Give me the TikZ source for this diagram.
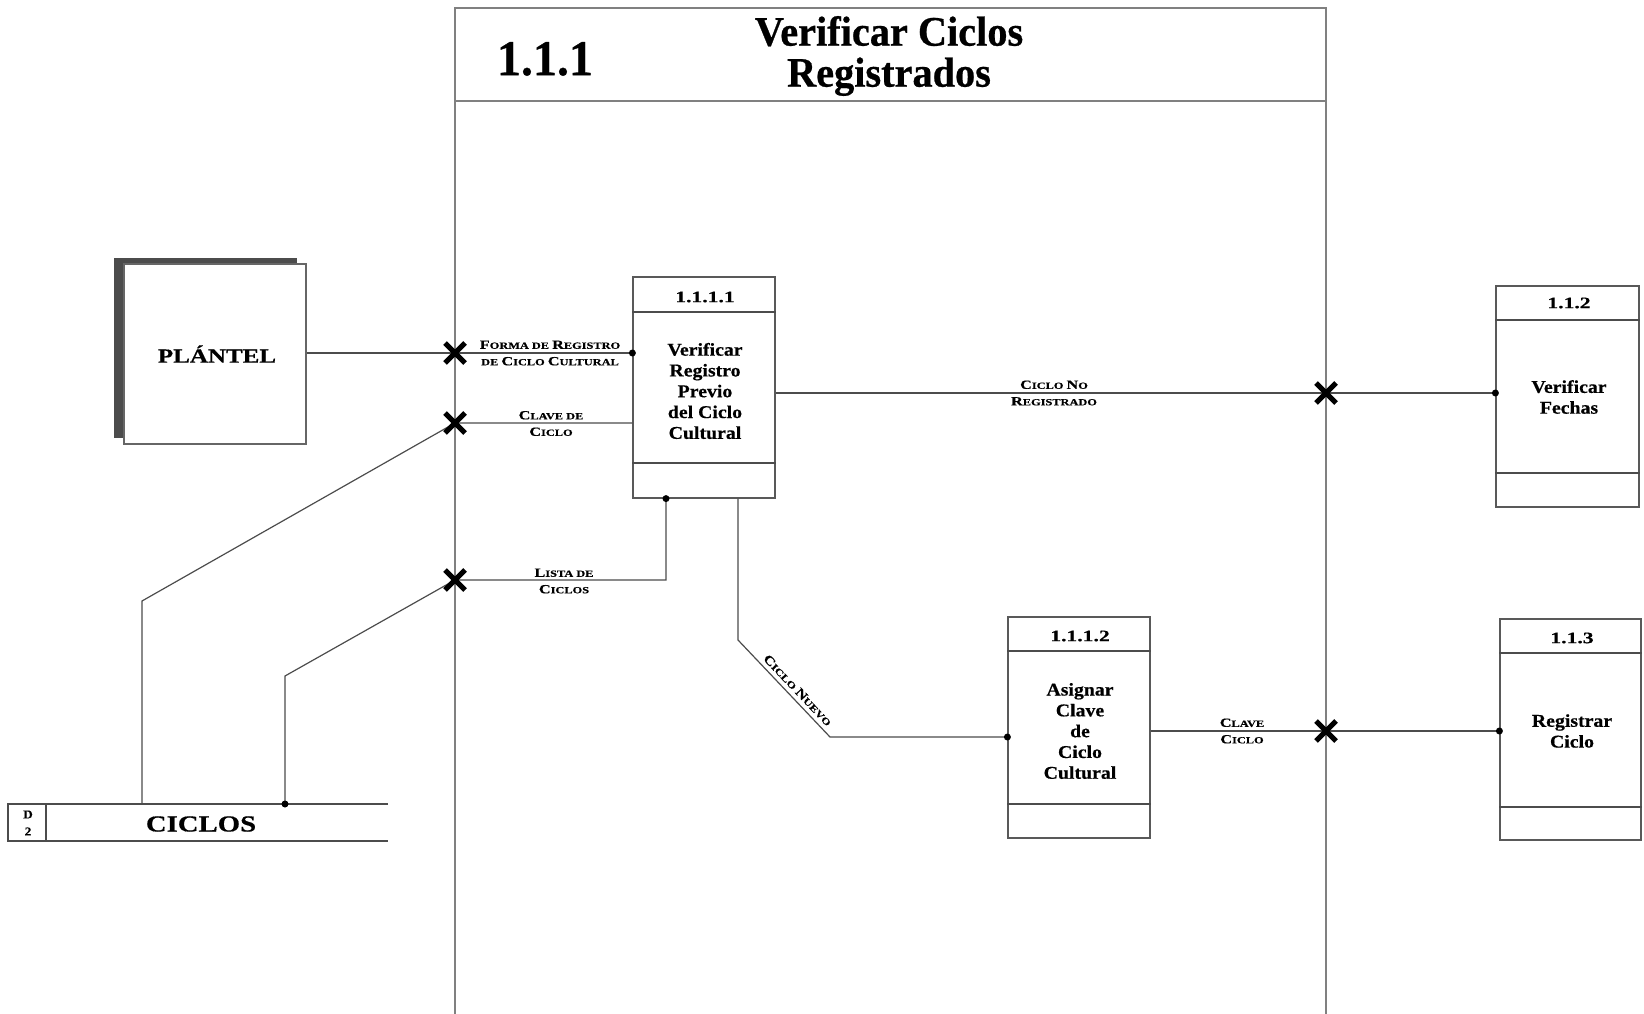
\documentclass[tikz,border=0pt]{standalone}
\usepackage{fontspec}
\setmainfont{Liberation Serif}
\newfontfamily\titfont[FakeStretch=0.96,FakeBold=0.6]{Liberation Serif}
\newfontfamily\widefont[FakeStretch=1.25,FakeBold=0.6]{Liberation Serif}
\newfontfamily\labfamily[FakeStretch=1.3,FakeBold=0.4]{Liberation Serif}
\newfontfamily\procfont[FakeStretch=1.1,FakeBold=0.5]{Liberation Serif}
\newfontfamily\numfont[FakeStretch=1.35,FakeBold=0.5]{Liberation Serif}
\usetikzlibrary{shapes.misc}
\newcommand\Bg[1]{{\fontsize{12.5}{12.5}\selectfont #1}}
\tikzset{
  ln/.style={draw=black!70, line width=1.2pt},
  frm/.style={draw=black!50, line width=1.1pt},
  pbox/.style={draw=black!65, line width=1.2pt, minimum width=142pt, minimum height=221pt, inner sep=0pt},
  ptit/.style={font=\numfont\bfseries\fontsize{16}{16}\selectfont, inner sep=0pt},
  pbody/.style={font=\procfont\bfseries\fontsize{18}{20.8}\selectfont, align=center, inner sep=0pt},
  lab/.style={font=\labfamily\bfseries\fontsize{9.5}{16.5}\selectfont, align=center, inner sep=0pt},
  xmk/.style={cross out, draw=black, line width=5pt, minimum size=15pt, inner sep=0pt},
  dot/.style={circle, fill=black, minimum size=7pt, inner sep=0pt},
}
\begin{document}
\begin{tikzpicture}[x=1pt,y=-1pt]
\useasboundingbox (0,0) rectangle (1644,1014);
% frame
\draw[frm] (455,1014) -- (455,8) -- (1326,8) -- (1326,1014);
\draw[frm] (455,101) -- (1326,101);
\node[font=\titfont\bfseries\fontsize{50}{50}\selectfont] (num) at (545,59) {1.1.1};
\node[font=\titfont\bfseries\fontsize{42}{41}\selectfont, align=center] (title) at (889,56) {Verificar Ciclos\\Registrados};

% PLANTEL
\fill[black!70] (114,258) rectangle (297,438);
\node[draw=black!60, fill=white, line width=1.1pt, minimum width=182pt, minimum height=180pt, inner sep=0pt] (plantel) at (215,354) {};
\node[font=\widefont\bfseries\fontsize{20}{20}\selectfont] (plantelt) at (217,354) {PLÁNTEL};

% CICLOS store
\draw[ln] (388,804) -- (8,804) -- (8,841) -- (388,841);
\draw[ln] (46,804) -- (46,841);
\coordinate (sa) at (142,804);
\coordinate (sb) at (285,804);
\node[font=\procfont\bfseries\fontsize{12}{17}\selectfont, align=center, inner sep=0pt] (dlab) at (28,823) {D\\2};
\node[font=\widefont\bfseries\fontsize{23}{23}\selectfont] (ciclos) at (201,824) {CICLOS};

% processes
\node[pbox] (p1) at (704,387.5) {};
\draw[ln] (p1.west |- 0,312) -- (p1.east |- 0,312);
\draw[ln] (p1.west |- 0,463) -- (p1.east |- 0,463);
\node[ptit] (p1t) at (705,297) {1.1.1.1};
\node[pbody] (p1b) at (705,391) {Verificar\\Registro\\Previo\\del Ciclo\\Cultural};

\node[pbox] (p2) at (1079,727.5) {};
\draw[ln] (p2.west |- 0,651) -- (p2.east |- 0,651);
\draw[ln] (p2.west |- 0,804) -- (p2.east |- 0,804);
\node[ptit] (p2t) at (1080,636) {1.1.1.2};
\node[pbody] (p2b) at (1080,731) {Asignar\\Clave\\de\\Ciclo\\Cultural};

\node[pbox, minimum width=143pt] (p3) at (1567.5,396.5) {};
\draw[ln] (p3.west |- 0,320) -- (p3.east |- 0,320);
\draw[ln] (p3.west |- 0,473) -- (p3.east |- 0,473);
\node[ptit] (p3t) at (1569,303) {1.1.2};
\node[pbody] (p3b) at (1569,397) {Verificar\\Fechas};

\node[pbox, minimum width=141pt] (p4) at (1570.5,729.5) {};
\draw[ln] (p4.west |- 0,653) -- (p4.east |- 0,653);
\draw[ln] (p4.west |- 0,807) -- (p4.east |- 0,807);
\node[ptit] (p4t) at (1572,638) {1.1.3};
\node[pbody] (p4b) at (1572,731) {Registrar\\Ciclo};

% crossing points
\coordinate (ca) at (455,353);
\coordinate (cb) at (455,423);
\coordinate (cc) at (455,580);
\coordinate (cd) at (1326,393);
\coordinate (ce) at (1326,731);
% bends
\coordinate (b1) at (142,601);
\coordinate (b2) at (285,676);
\coordinate (b3) at (666,580);
\coordinate (b4) at (738,640);
\coordinate (b5) at (830,737);

% connectors
\draw[ln] (plantel.east |- ca) -- (ca) -- (p1.west |- ca);
\draw[ln] (sa) -- (b1) -- (cb) -- (p1.west |- cb);
\draw[ln] (sb) -- (b2) -- (cc) -- (b3) -- (b3 |- p1.south);
\draw[ln] (p1.east |- cd) -- (cd) -- (p3.west |- cd);
\draw[ln] (p1.south -| b4) -- (b4) -- node[lab, sloped, above=4pt, pos=0.58] (lnuevo) {\Bg{C}ICLO \Bg{N}UEVO} (b5) -- (p2.west |- b5);
\draw[ln] (p2.east |- ce) -- (ce) -- (p4.west |- ce);

% markers
\node[xmk] (xa) at (ca) {};
\node[xmk] (xb) at (cb) {};
\node[xmk] (xc) at (cc) {};
\node[xmk] (xd) at (cd) {};
\node[xmk] (xe) at (ce) {};
\node[dot] (da) at (p1.west |- ca) {};
\node[dot] (db) at (b3 |- p1.south) {};
\node[dot] (dc) at (sb) {};
\node[dot] (dd) at (p3.west |- cd) {};
\node[dot] (de) at (p2.west |- b5) {};
\node[dot] (df) at (p4.west |- ce) {};

% labels
\node[lab] (lforma) at (550,353) {\Bg{F}ORMA DE \Bg{R}EGISTRO\\DE \Bg{C}ICLO \Bg{C}ULTURAL};
\node[lab] (lclave) at (551,423.5) {\Bg{C}LAVE DE\\\Bg{C}ICLO};
\node[lab] (llista) at (564,581) {\Bg{L}ISTA DE\\\Bg{C}ICLOS};
\node[lab] (lnoreg) at (1054,393) {\Bg{C}ICLO \Bg{N}O\\\Bg{R}EGISTRADO};
\node[lab] (lclave2) at (1242,731) {\Bg{C}LAVE\\\Bg{C}ICLO};
\end{tikzpicture}
\end{document}
